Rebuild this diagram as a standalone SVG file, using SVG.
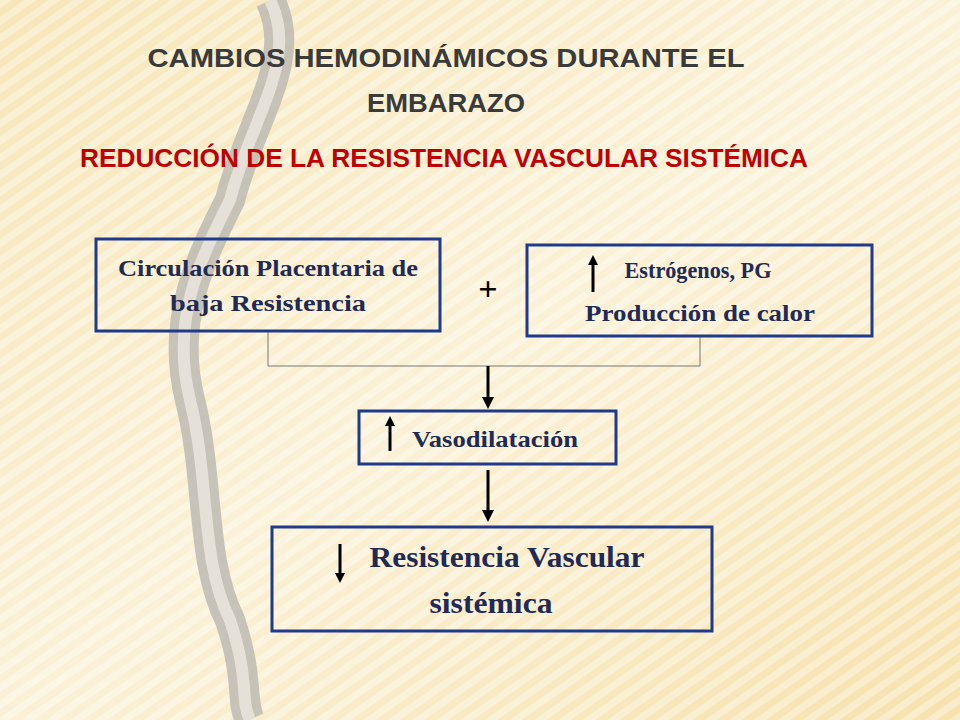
<svg xmlns="http://www.w3.org/2000/svg" width="960" height="720" viewBox="0 0 960 720">
<defs>
<linearGradient id="bg" x1="0" y1="0" x2="1" y2="1"><stop offset="0" stop-color="#f7e6b8"/><stop offset="0.5" stop-color="#fbf1d6"/><stop offset="1" stop-color="#f6e2ad"/></linearGradient>
<pattern id="str" width="14" height="14" patternUnits="userSpaceOnUse" patternTransform="rotate(-35)"><rect width="14" height="7" fill="#ffffff" opacity="0.35"/></pattern>
<marker id="ah" markerWidth="10" markerHeight="10" refX="5" refY="5" orient="auto" markerUnits="userSpaceOnUse" viewBox="0 0 10 10"><path d="M0,0 L10,5 L0,10 Z" fill="#000"/></marker>
<marker id="ah2" markerWidth="12" markerHeight="12" refX="6" refY="6" orient="auto" markerUnits="userSpaceOnUse" viewBox="0 0 12 12"><path d="M0,0 L12,6 L0,12 Z" fill="#000"/></marker>
</defs>
<style>
.box{fill:none;stroke:#1f3a8a;stroke-width:3}
.t{font-family:"Liberation Serif",serif;font-weight:bold;fill:#1f2a55;text-anchor:middle}
.ar{stroke:#000;stroke-width:3;fill:none}
</style>
<rect width="960" height="720" fill="url(#bg)"/>
<rect width="960" height="720" fill="url(#str)"/>
<path d="M270,0 C300,60 250,120 230,200 C200,260 170,320 190,400 C210,480 200,560 230,620 C250,680 240,700 250,720" stroke="#b9b6b0" stroke-width="30" fill="none" opacity="0.8"/>
<path d="M270,0 C300,60 250,120 230,200 C200,260 170,320 190,400 C210,480 200,560 230,620 C250,680 240,700 250,720" stroke="#e8e4dc" stroke-width="12" fill="none" opacity="0.9"/>
<g font-family="Liberation Sans,sans-serif" font-weight="bold" text-anchor="middle">
<text x="446" y="67" font-size="25" fill="#3a3a3a" textLength="597" lengthAdjust="spacingAndGlyphs">CAMBIOS HEMODINÁMICOS DURANTE EL</text>
<text x="446" y="112" font-size="25" fill="#3a3a3a" textLength="158" lengthAdjust="spacingAndGlyphs">EMBARAZO</text>
<text x="444" y="167" font-size="26" fill="#c00000" textLength="728" lengthAdjust="spacingAndGlyphs">REDUCCIÓN DE LA RESISTENCIA VASCULAR SISTÉMICA</text>
</g>
<g id="connectors">
<path d="M268,331 V366 H700 V336" stroke="#777" stroke-width="1" fill="none"/>
<line x1="488" y1="366" x2="488" y2="403" class="ar" marker-end="url(#ah2)"/>
<line x1="488" y1="470" x2="488" y2="516" class="ar" marker-end="url(#ah2)"/>
</g>
<g id="n1"><rect class="box" x="96" y="239" width="344" height="92"/>
<text class="t" x="268" y="276" font-size="23" textLength="300" lengthAdjust="spacingAndGlyphs">Circulación Placentaria de</text>
<text class="t" x="268" y="311" font-size="23" textLength="196" lengthAdjust="spacingAndGlyphs">baja Resistencia</text></g>
<g id="plus"><text class="t" x="488" y="300" font-size="34" style="fill:#000">+</text></g>
<g id="n2"><rect class="box" x="527" y="245" width="345" height="91"/>
<line x1="593" y1="292" x2="593" y2="260" class="ar" marker-end="url(#ah)"/>
<text class="t" x="698" y="278" font-size="23" textLength="147" lengthAdjust="spacingAndGlyphs">Estrógenos, PG</text>
<text class="t" x="700" y="321" font-size="23" textLength="230" lengthAdjust="spacingAndGlyphs">Producción de calor</text></g>
<g id="n3"><rect class="box" x="359" y="411" width="257" height="53"/>
<line x1="390" y1="451" x2="390" y2="421" class="ar" marker-end="url(#ah)"/>
<text class="t" x="495" y="447" font-size="24" textLength="166" lengthAdjust="spacingAndGlyphs">Vasodilatación</text></g>
<g id="n4"><rect class="box" x="272" y="527" width="440" height="104"/>
<line x1="340" y1="544" x2="340" y2="578" class="ar" marker-end="url(#ah)"/>
<text class="t" x="507" y="567" font-size="30" textLength="275" lengthAdjust="spacingAndGlyphs">Resistencia Vascular</text>
<text class="t" x="491" y="613" font-size="30" textLength="123" lengthAdjust="spacingAndGlyphs">sistémica</text></g>
</svg>
